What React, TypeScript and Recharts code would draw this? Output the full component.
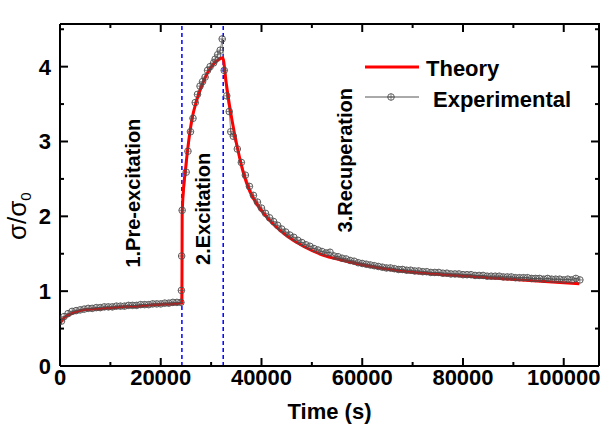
import React from 'react';
import { LineChart, Line, XAxis, YAxis, ReferenceLine, ReferenceDot, Legend } from 'recharts';

const FONT = '"Liberation Sans", Arial, sans-serif';
const PLOT_LEFT = 60;
const PLOT_TOP = 24;
const PLOT_W = 539;
const PLOT_H = 342;

// time (s), sigma/sigma0
const preExcitation: [number, number][] = [
  [300, 0.6], [800, 0.66], [1600, 0.7], [2400, 0.73], [3200, 0.74], [4000, 0.75], [4800, 0.76],
  [5600, 0.77], [6400, 0.77], [7200, 0.78], [8000, 0.78], [8800, 0.79], [9600, 0.79], [10400, 0.79],
  [11200, 0.8], [12000, 0.8], [12800, 0.8], [13600, 0.81], [14400, 0.81], [15200, 0.81], [16000, 0.82],
  [16800, 0.82], [17600, 0.82], [18400, 0.83], [19200, 0.83], [20000, 0.83], [20800, 0.84], [21600, 0.84],
  [22400, 0.85], [23200, 0.85], [24000, 0.85],
];

const excitation: [number, number][] = [
  [24100, 1.01], [24150, 1.47], [24250, 2.08], [25050, 2.59], [25400, 2.87], [25900, 3.13], [26400, 3.31],
  [26850, 3.52], [27300, 3.63], [27800, 3.74], [28300, 3.8], [28800, 3.86], [29300, 3.95], [29800, 4.0],
  [30500, 4.05], [30800, 4.1], [31300, 4.16], [31800, 4.22], [32200, 4.37],
];

const recuperation: [number, number][] = [
  [32600, 3.95], [33100, 3.61], [33600, 3.4], [33900, 3.13], [34400, 3.07], [35200, 2.9], [36000, 2.72],
  [36800, 2.55], [37600, 2.4], [38400, 2.28], [39200, 2.19], [40000, 2.11], [40800, 2.04], [41600, 1.98],
  [42400, 1.93], [43200, 1.88], [44000, 1.83], [44800, 1.79], [45600, 1.75], [46400, 1.72], [47200, 1.68],
  [48000, 1.65], [48800, 1.62], [49600, 1.6], [50400, 1.57], [51200, 1.55], [52000, 1.53], [52800, 1.51],
  [53600, 1.52], [54400, 1.47], [55200, 1.46], [56000, 1.44], [56800, 1.43], [57600, 1.41], [58400, 1.4],
  [59200, 1.38], [60000, 1.37], [60800, 1.36], [61600, 1.35], [62400, 1.34], [63200, 1.33], [64000, 1.32],
  [64800, 1.31], [65600, 1.31], [66400, 1.3], [67200, 1.29], [68000, 1.29], [68800, 1.28], [69600, 1.28],
  [70400, 1.27], [71200, 1.27], [72000, 1.26], [72800, 1.26], [73600, 1.25], [74400, 1.25], [75200, 1.25],
  [76000, 1.24], [76800, 1.24], [77600, 1.23], [78400, 1.23], [79200, 1.23], [80000, 1.22], [80800, 1.22],
  [81600, 1.22], [82400, 1.21], [83200, 1.21], [84000, 1.21], [84800, 1.2], [85600, 1.2], [86400, 1.2],
  [87200, 1.2], [88000, 1.19], [88800, 1.19], [89600, 1.19], [90400, 1.18], [91200, 1.18], [92000, 1.18],
  [92800, 1.18], [93600, 1.17], [94400, 1.17], [95200, 1.17], [96000, 1.16], [96800, 1.17], [97600, 1.16],
  [98400, 1.16], [99200, 1.16], [100000, 1.15], [100800, 1.16], [101600, 1.15], [102400, 1.17], [103200, 1.15],
];

const theory: [number, number][] = [
  [0, 0.57], [500, 0.62], [1400, 0.67], [2700, 0.71], [4700, 0.75], [7000, 0.76], [9300, 0.77],
  [12500, 0.79], [15900, 0.8], [19000, 0.82], [22500, 0.83], [24200, 0.84], [24250, 2.0], [24500, 2.35],
  [24900, 2.62], [25500, 2.98], [26200, 3.3], [27000, 3.52], [27800, 3.68], [28600, 3.82], [29400, 3.93],
  [30400, 4.03], [31400, 4.09], [32300, 4.12], [33000, 3.78], [33800, 3.42], [34600, 3.12], [35400, 2.86],
  [36400, 2.58], [37700, 2.33], [39100, 2.16], [40400, 2.04], [42400, 1.89], [45000, 1.74], [48300, 1.6],
  [52300, 1.48], [55600, 1.42], [59500, 1.36], [63500, 1.31], [67500, 1.27], [74000, 1.23], [80700, 1.2],
  [87300, 1.17], [93900, 1.14], [103100, 1.1],
];

const phaseBounds = [24200, 32400];
const phaseLabels: { text: string; t: number; v: number }[] = [
  { text: '1.Pre-excitation', t: 14400, v: 2.31 },
  { text: '2.Excitation', t: 28400, v: 2.1 },
  { text: '3.Recuperation', t: 56600, v: 2.75 },
];

const xTicks = [0, 10000, 20000, 30000, 40000, 50000, 60000, 70000, 80000, 90000, 100000];
const yTicks = [0, 0.5, 1, 1.5, 2, 2.5, 3, 3.5, 4, 4.5];
const X_DOMAIN: [number, number] = [0, 107000];
const Y_DOMAIN: [number, number] = [0, 4.57];

const toPoints = (rows: [number, number][]) => rows.map(([t, v]) => ({ t, v }));
const expData = toPoints([...preExcitation, ...excitation, ...recuperation]);
const theoryData = toPoints(theory);

const axisLine = { stroke: '#000', strokeWidth: 2 };
const labelStyle = { fontFamily: FONT, fontWeight: 'bold' as const, fontSize: 22, fill: '#000' };

function BottomTick(props: any) {
  const { x, y, payload } = props;
  const major = payload.value % 20000 === 0;
  return (
    <g>
      <path d={`M${x},${y}V${y - (major ? 8 : 4)}`} stroke="#000" strokeWidth={2} fill="none" />
      {major && (
        <text x={x} y={y + 19} textAnchor="middle" {...labelStyle}>
          {payload.value}
        </text>
      )}
    </g>
  );
}

function LeftTick(props: any) {
  const { x, y, payload } = props;
  const major = Number.isInteger(payload.value);
  return (
    <g>
      <path d={`M${x},${y}H${x + (major ? 8 : 4)}`} stroke="#000" strokeWidth={2} fill="none" />
      {major && (
        <text x={x - 9} y={y + 8} textAnchor="end" {...labelStyle}>
          {payload.value}
        </text>
      )}
    </g>
  );
}

// top and right edges of the frame with mirrored inward ticks
function FrameOverlay() {
  const right = PLOT_LEFT + PLOT_W;
  const bottom = PLOT_TOP + PLOT_H;
  const sx = (t: number) => PLOT_LEFT + ((t - X_DOMAIN[0]) / (X_DOMAIN[1] - X_DOMAIN[0])) * PLOT_W;
  const sy = (v: number) => bottom - ((v - Y_DOMAIN[0]) / (Y_DOMAIN[1] - Y_DOMAIN[0])) * PLOT_H;
  return (
    <svg width={602} height={427} style={{ position: 'absolute', left: 0, top: 0, pointerEvents: 'none' }}>
      <path d={`M${PLOT_LEFT},${PLOT_TOP}H${right}V${bottom}`} stroke="#000" strokeWidth={2} fill="none" />
      {xTicks.map((t) => (
        <line key={`xt${t}`} x1={sx(t)} x2={sx(t)} y1={PLOT_TOP} y2={PLOT_TOP + (t % 20000 === 0 ? 8 : 4)} stroke="#000" strokeWidth={2} />
      ))}
      {yTicks.map((v) => (
        <line key={`yt${v}`} x1={right} x2={right - (Number.isInteger(v) ? 8 : 4)} y1={sy(v)} y2={sy(v)} stroke="#000" strokeWidth={2} />
      ))}
    </svg>
  );
}

function YTitle({ viewBox }: any) {
  const vb = viewBox || { x: 0, y: 24, width: 60, height: 342 };
  const cx = vb.x + 26;
  const cy = vb.y + vb.height / 2 + 45;
  return (
    <text x={cx} y={cy} transform={`rotate(-90, ${cx}, ${cy})`} fontFamily={FONT} fontSize={26} fill="#000">
      σ/σ
      <tspan fontSize={15} dy={5}>0</tspan>
    </text>
  );
}

function CrossCircle({ cx, cy }: any) {
  if (cx == null || cy == null) return null;
  const r = 3.3;
  return (
    <g>
      <circle cx={cx} cy={cy} r={r} fill="none" stroke="#4d4d4d" strokeWidth={0.9} />
      <line x1={cx - r} x2={cx + r} y1={cy} y2={cy} stroke="#4d4d4d" strokeWidth={0.7} />
      <line x1={cx} x2={cx} y1={cy - r} y2={cy + r} stroke="#4d4d4d" strokeWidth={0.7} />
    </g>
  );
}

function LegendBox() {
  return (
    <svg width={240} height={65}>
      <line x1={5} x2={59} y1={17} y2={17} stroke="#ff0000" strokeWidth={3} />
      <text x={66} y={26} {...labelStyle}>Theory</text>
      <line x1={5} x2={59} y1={47} y2={47} stroke="#555" strokeWidth={1} />
      <CrossCircle cx={31} cy={47} />
      <text x={73} y={57} {...labelStyle}>Experimental</text>
    </svg>
  );
}

export default function App() {
  return (
    <div style={{ position: 'absolute', left: 0, top: 0, width: 602, height: 427, background: '#fff' }}>
      <LineChart width={602} height={427} margin={{ top: PLOT_TOP, right: 602 - PLOT_LEFT - PLOT_W, bottom: 0, left: 0 }}>
        <XAxis
          dataKey="t"
          type="number"
          domain={X_DOMAIN}
          allowDataOverflow
          ticks={xTicks}
          interval={0}
          height={427 - PLOT_TOP - PLOT_H}
          tickSize={0}
          tickMargin={0}
          tickLine={false}
          axisLine={axisLine}
          tick={BottomTick}
          label={{ value: 'Time (s)', position: 'insideBottom', offset: 8, ...labelStyle }}
        />
        <YAxis
          type="number"
          domain={Y_DOMAIN}
          allowDataOverflow
          ticks={yTicks}
          interval={0}
          width={PLOT_LEFT}
          tickSize={0}
          tickMargin={0}
          tickLine={false}
          axisLine={axisLine}
          tick={LeftTick}
          label={<YTitle />}
        />
        {phaseBounds.map((t) => (
          <ReferenceLine key={t} x={t} stroke="#0000ff" strokeWidth={1.5} strokeDasharray="4 3" />
        ))}
        {phaseLabels.map((p) => (
          <ReferenceDot
            key={p.text}
            x={p.t}
            y={p.v}
            r={0}
            fill="none"
            stroke="none"
            label={{
              value: p.text,
              position: 'center',
              angle: -90,
              fill: '#000',
              fontSize: 20,
              fontWeight: 'bold',
              fontFamily: FONT,
            }}
          />
        ))}
        <Line
          data={expData}
          dataKey="v"
          name="Experimental"
          type="linear"
          stroke="#666"
          strokeWidth={0.8}
          dot={(p: any) => <CrossCircle key={p.index} cx={p.cx} cy={p.cy} />}
          isAnimationActive={false}
        />
        <Line
          data={theoryData}
          dataKey="v"
          name="Theory"
          type="monotone"
          stroke="#ff0000"
          strokeWidth={3}
          dot={false}
          isAnimationActive={false}
        />
        <Legend
          layout="vertical"
          align="center"
          verticalAlign="middle"
          wrapperStyle={{ left: 360, top: 50, width: 240 }}
          content={() => <LegendBox />}
        />
      </LineChart>
      <FrameOverlay />
    </div>
  );
}
